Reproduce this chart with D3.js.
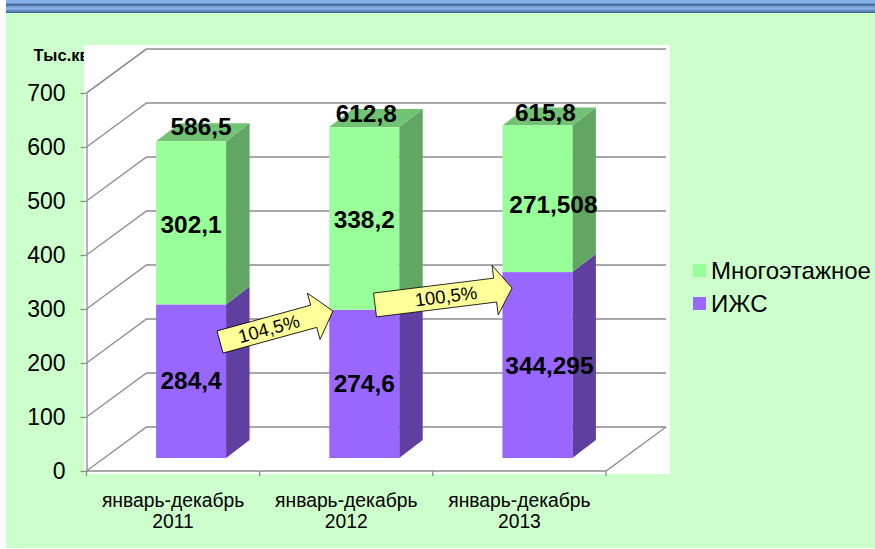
<!DOCTYPE html>
<html>
<head>
<meta charset="utf-8">
<script src="https://cdnjs.cloudflare.com/ajax/libs/d3/7.8.5/d3.min.js"></script>
<style>
body{margin:0;background:#fff;}
text{font-family:"Liberation Sans",Arial,sans-serif;fill:#000;}
</style>
</head>
<body>
<div id="chart-area"></div>
<script>
// chart data
var categories=["январь-декабрь 2011","январь-декабрь 2012","январь-декабрь 2013"];
var izhs=[284.4,274.6,344.295];
var mnogo=[302.1,338.2,271.508];
var izhsLabels=["284,4","274,6","344,295"];
var mnogoLabels=["302,1","338,2","271,508"];
var totalLabels=["586,5","612,8","615,8"];
var yTicks=[0,100,200,300,400,500,600,700];
var legendNames=["Многоэтажное","ИЖС"];
var growthLabels=["104,5%","100,5%"];

var width=875,height=549;
var svg=d3.select("#chart-area").append("svg")
    .attr("width",width)
    .attr("height",height)
    .style("display","block");

// header band
var defs=svg.append("defs");
var grad=defs.append("linearGradient").attr("id","band").attr("x1",0).attr("x2",0).attr("y1",0).attr("y2",1);
grad.append("stop").attr("offset","0").attr("stop-color","#2f5488");
grad.append("stop").attr("offset","0.5").attr("stop-color","#8fb8ea");
grad.append("stop").attr("offset","1").attr("stop-color","#3a6298");

svg.append("rect").attr("x",6).attr("y",13).attr("width",869).attr("height",535).attr("fill","#ccffcc");
svg.append("rect").attr("x",6).attr("y",0).attr("width",869).attr("height",3.5).attr("fill","#7fb0ec");
svg.append("rect").attr("x",6).attr("y",3.5).attr("width",869).attr("height",9.5).attr("fill","url(#band)");

// plot area
svg.append("rect").attr("x",84).attr("y",45).attr("width",586).attr("height",429).attr("fill","#fff");

var x0=86.5,x1=606;        // front floor edge
var dx=60,dy=-44;          // depth of the walls
var barDx=23.5,barDy=-18;  // depth of the bars
var barShift=18;           // bars stand in the middle of the floor
var y=d3.scaleLinear().domain([0,700]).range([471,93]);
var x=d3.scaleBand().domain(categories).range([x0+barShift,x1+barShift]).paddingInner(0.596).paddingOuter(0.298);
var barBase=458;
var h=(v)=>{return y(0)-y(v);};

// walls and gridlines
var grid="#8c8c8c";
var walls=svg.append("g").attr("fill","none").attr("stroke",grid).attr("stroke-width",1.3);
yTicks.forEach((t)=>{
    walls.append("path").attr("d",d3.line()([[x0,y(t)],[x0+dx,y(t)+dy],[x1+dx,y(t)+dy]]));
});
walls.append("path").attr("d",d3.line()([[x0,y(0)],[x1,y(0)],[x1+dx,y(0)+dy]]));

// value axis
var yAxis=d3.axisLeft(y).tickValues(yTicks).tickSize(6).tickPadding(15).tickSizeOuter(0);
var yAxisGroup=svg.append("g").attr("transform","translate("+x0+",0)").call(yAxis);
yAxisGroup.select(".domain").attr("stroke",grid).attr("stroke-width",1.3);
yAxisGroup.selectAll("line").attr("stroke",grid).attr("stroke-width",1.3);
yAxisGroup.selectAll("text").attr("font-size","23px").attr("font-family","Liberation Sans");

// category axis
var step=(x1-x0)/3;
var catTicks=d3.range(0,4).map((i)=>{return x0+i*step;});
var catAxis=svg.append("g");
catAxis.selectAll("line").data(catTicks).enter().append("line")
    .attr("x1",(d)=>{return d;}).attr("x2",(d)=>{return d;})
    .attr("y1",y(0)).attr("y2",y(0)+5)
    .attr("stroke",grid).attr("stroke-width",1.3);
categories.forEach((c,i)=>{
    var parts=c.split(" ");
    var cx=x0+(i+0.5)*step;
    var t=svg.append("text").attr("text-anchor","middle").attr("font-size","19.3px");
    t.append("tspan").attr("x",cx).attr("y",507).text(parts[0]);
    t.append("tspan").attr("x",cx).attr("y",528).text(parts[1]);
});

// bars
var barColors={izhs:{front:"#9966ff",side:"#5f40a0"},mnogo:{front:"#99ff99",side:"#62a663",top:"#72c274"}};
categories.forEach((c,i)=>{
    var bx=x(c),bw=x.bandwidth();
    var ySplit=barBase-h(izhs[i]);
    var yTop=ySplit-h(mnogo[i]);
    var g=svg.append("g");
    var poly=(pts,col)=>{g.append("path").attr("d",d3.line()(pts)+"Z").attr("fill",col);};
    poly([[bx+bw,barBase],[bx+bw+barDx,barBase+barDy],[bx+bw+barDx,ySplit+barDy],[bx+bw,ySplit]],barColors.izhs.side);
    poly([[bx+bw,ySplit],[bx+bw+barDx,ySplit+barDy],[bx+bw+barDx,yTop+barDy],[bx+bw,yTop]],barColors.mnogo.side);
    poly([[bx,yTop],[bx+barDx,yTop+barDy],[bx+bw+barDx,yTop+barDy],[bx+bw,yTop]],barColors.mnogo.top);
    g.append("rect").attr("x",bx).attr("y",ySplit).attr("width",bw).attr("height",barBase-ySplit).attr("fill",barColors.izhs.front);
    g.append("rect").attr("x",bx).attr("y",yTop).attr("width",bw).attr("height",ySplit-yTop).attr("fill",barColors.mnogo.front);
});

// growth arrows
var arrowPos=[
    {tail:[220,342],tip:[333,311],half:11.5,headHalf:24,headLen:20,textShift:2},
    {tail:[375,305],tip:[512,288],half:12,headHalf:25,headLen:17,textShift:11}
];
arrowPos.forEach((a,i)=>{
    var ang=Math.atan2(a.tip[1]-a.tail[1],a.tip[0]-a.tail[0])*180/Math.PI;
    var len=Math.hypot(a.tip[0]-a.tail[0],a.tip[1]-a.tail[1]);
    var g=svg.append("g").attr("transform","translate("+a.tail[0]+","+a.tail[1]+") rotate("+ang+")");
    var pts=[[0,-a.half],[len-a.headLen,-a.half],[len-a.headLen,-a.headHalf],[len,0],[len-a.headLen,a.headHalf],[len-a.headLen,a.half],[0,a.half]];
    g.append("path").attr("d",d3.line()(pts)+"Z").attr("fill","#ffff99").attr("stroke","#000").attr("stroke-width",0.8);
    g.append("text").attr("x",(len-a.headLen)/2+a.textShift).attr("y",6.5).attr("text-anchor","middle").attr("font-size","18.5px").text(growthLabels[i]);
});

// data labels, nudged the way they sit in the picture
var lab=(cx,cy,s)=>{
    svg.append("text").attr("x",cx).attr("y",cy).attr("text-anchor","middle")
        .attr("font-size","24.4px").attr("font-weight","bold").text(s);
};
var totalNudge=[10,2,8];
var totalLift=[6,5,4];
var midNudge=[0,0,16];
var mnogoDrop=[10,10,14];
var izhsNudge=[0,0,12];
var izhsDrop=[8,8,9];
categories.forEach((c,i)=>{
    var cx=x(c)+x.bandwidth()/2;
    var ySplit=barBase-h(izhs[i]);
    var yTop=ySplit-h(mnogo[i]);
    lab(cx+totalNudge[i],yTop-totalLift[i],totalLabels[i]);
    lab(cx+midNudge[i],(ySplit+yTop)/2+mnogoDrop[i],mnogoLabels[i]);
    lab(cx+izhsNudge[i],(ySplit+barBase)/2+izhsDrop[i],izhsLabels[i]);
});

// unit label, clipped by the plot area
svg.append("text").attr("x",33.5).attr("y",61).attr("font-size","16.5px").attr("font-weight","bold").text("Тыс.кв.м");
svg.append("rect").attr("x",84).attr("y",45).attr("width",30).attr("height",20).attr("fill","#fff");
svg.append("path").attr("fill","none").attr("stroke",grid).attr("stroke-width",1.3)
    .attr("d",d3.line()([[x0,y(700)],[x0+dx,y(700)+dy]]));

// legend
var legendColors=[barColors.mnogo.front,barColors.izhs.front];
legendNames.forEach((n,i)=>{
    svg.append("rect").attr("x",693).attr("y",264+i*33).attr("width",13).attr("height",13).attr("fill",legendColors[i]);
    svg.append("text").attr("x",711).attr("y",279+i*33).attr("font-size","24px").text(n);
});
</script>
</body>
</html>
